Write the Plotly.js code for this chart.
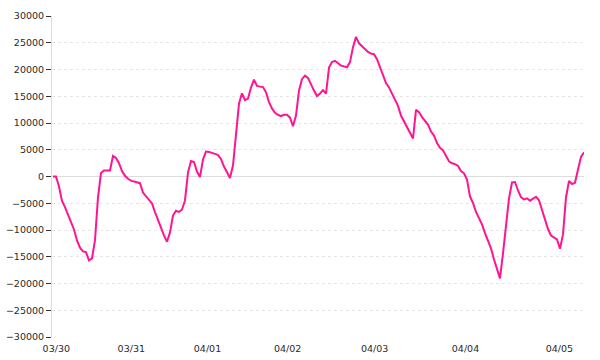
<!DOCTYPE html>
<html>
<head>
<meta charset="utf-8">
<script src="https://cdn.plot.ly/plotly-3.0.1.min.js"></script>
<style>html,body{margin:0;padding:0;background:#fff;}#chart{width:600px;height:360px;}</style>
</head>
<body>
<div id="chart"></div>
<script>
// Series values (one per sample, in order)
const values = [
  0, 0, -1870, -4570, -5730, -7100, -8500, -9900, -11950, -13300,
  -14000, -14130, -15700, -15300, -11950, -3900, 650, 1120, 1120, 1120,
  3830, 3450, 2480, 1030, 130, -430, -780, -930, -1210, -1250,
  -3000, -3640, -4300, -5040, -6670, -8200, -9600, -11000, -12200, -10450,
  -7300, -6400, -6630, -6160, -4480, 750, 2900, 2700, 930, -100,
  3170, 4670, 4600, 4480, 4240, 4010, 3270, 1870, 650, -280,
  2050, 8030, 13630, 15550, 14280, 14560, 16620, 18100, 16930, 16800,
  16710, 15740, 13910, 12730, 11890, 11540, 11300, 11520, 11520, 11000,
  9400, 11400, 16060, 18200, 18860, 18430, 17180, 16060, 15030, 15500,
  16150, 15500, 20350, 21380, 21620, 21190, 20720, 20580, 20410, 21380,
  24180, 26100, 24890, 24360, 23840, 23280, 22960, 22850, 21920, 20540,
  19140, 17460, 16650, 15500, 14380, 13200, 11390, 10340, 9220, 8030,
  7100, 12450, 12040, 11110, 10360, 9710, 8400, 7650, 6250, 5360,
  4890, 3920, 2860, 2460, 2320, 1960, 1030, 600, -560, -3730,
  -4950, -6630, -7840, -8960, -10590, -12100, -13440, -15500, -17460, -19040,
  -14380, -8960, -4100, -1120, -1030, -2610, -3860, -4290, -4070, -4520,
  -4110, -3790, -4440, -6350, -8210, -9820, -11020, -11480, -11760, -13500,
  -10830, -3920, -840, -1400, -1180, 1310, 3680, 4500
];
const sampleIndex = values.map((_, i) => i);

// Tick labels (day boundaries, as sample positions)
const dayTickPos = [1.1, 26.1, 51.5, 78.2, 107.2, 137.5, 168.8];
const dayTickText = ['03/30', '03/31', '04/01', '04/02', '04/03', '04/04', '04/05'];
const yTickVals = [-30000, -25000, -20000, -15000, -10000, -5000, 0, 5000, 10000, 15000, 20000, 25000, 30000];

const trace = {
  x: sampleIndex,
  y: values,
  type: 'scatter',
  mode: 'lines',
  line: {color: '#ff1493', width: 2},
  hoverinfo: 'skip'
};

const font = {family: '"DejaVu Sans", Verdana, sans-serif', size: 9.5, color: '#2a2a2a'};

const layout = {
  width: 600, height: 360,
  margin: {l: 52, r: 16, t: 16, b: 23, pad: 0},
  paper_bgcolor: '#fff', plot_bgcolor: '#fff',
  showlegend: false,
  font: font,
  xaxis: {
    range: [-0.33, 177],
    tickvals: dayTickPos, ticktext: dayTickText,
    showgrid: false, zeroline: false, showline: false,
    ticks: 'outside', ticklen: 3, tickcolor: 'rgba(0,0,0,0)',
    tickfont: font, fixedrange: true
  },
  yaxis: {
    range: [-30000, 30000],
    tickvals: yTickVals,
    tickformat: 'd',
    showgrid: true, gridcolor: '#e6e6e6', griddash: 'dot', gridwidth: 1,
    zeroline: true, zerolinecolor: '#dddddd', zerolinewidth: 1,
    showline: true, linecolor: '#dddddd', linewidth: 1,
    ticks: 'outside', ticklen: 5, tickcolor: '#333', tickwidth: 1,
    tickfont: font, fixedrange: true
  }
};

Plotly.newPlot('chart', [trace], layout, {staticPlot: true, displayModeBar: false});
</script>
</body>
</html>
